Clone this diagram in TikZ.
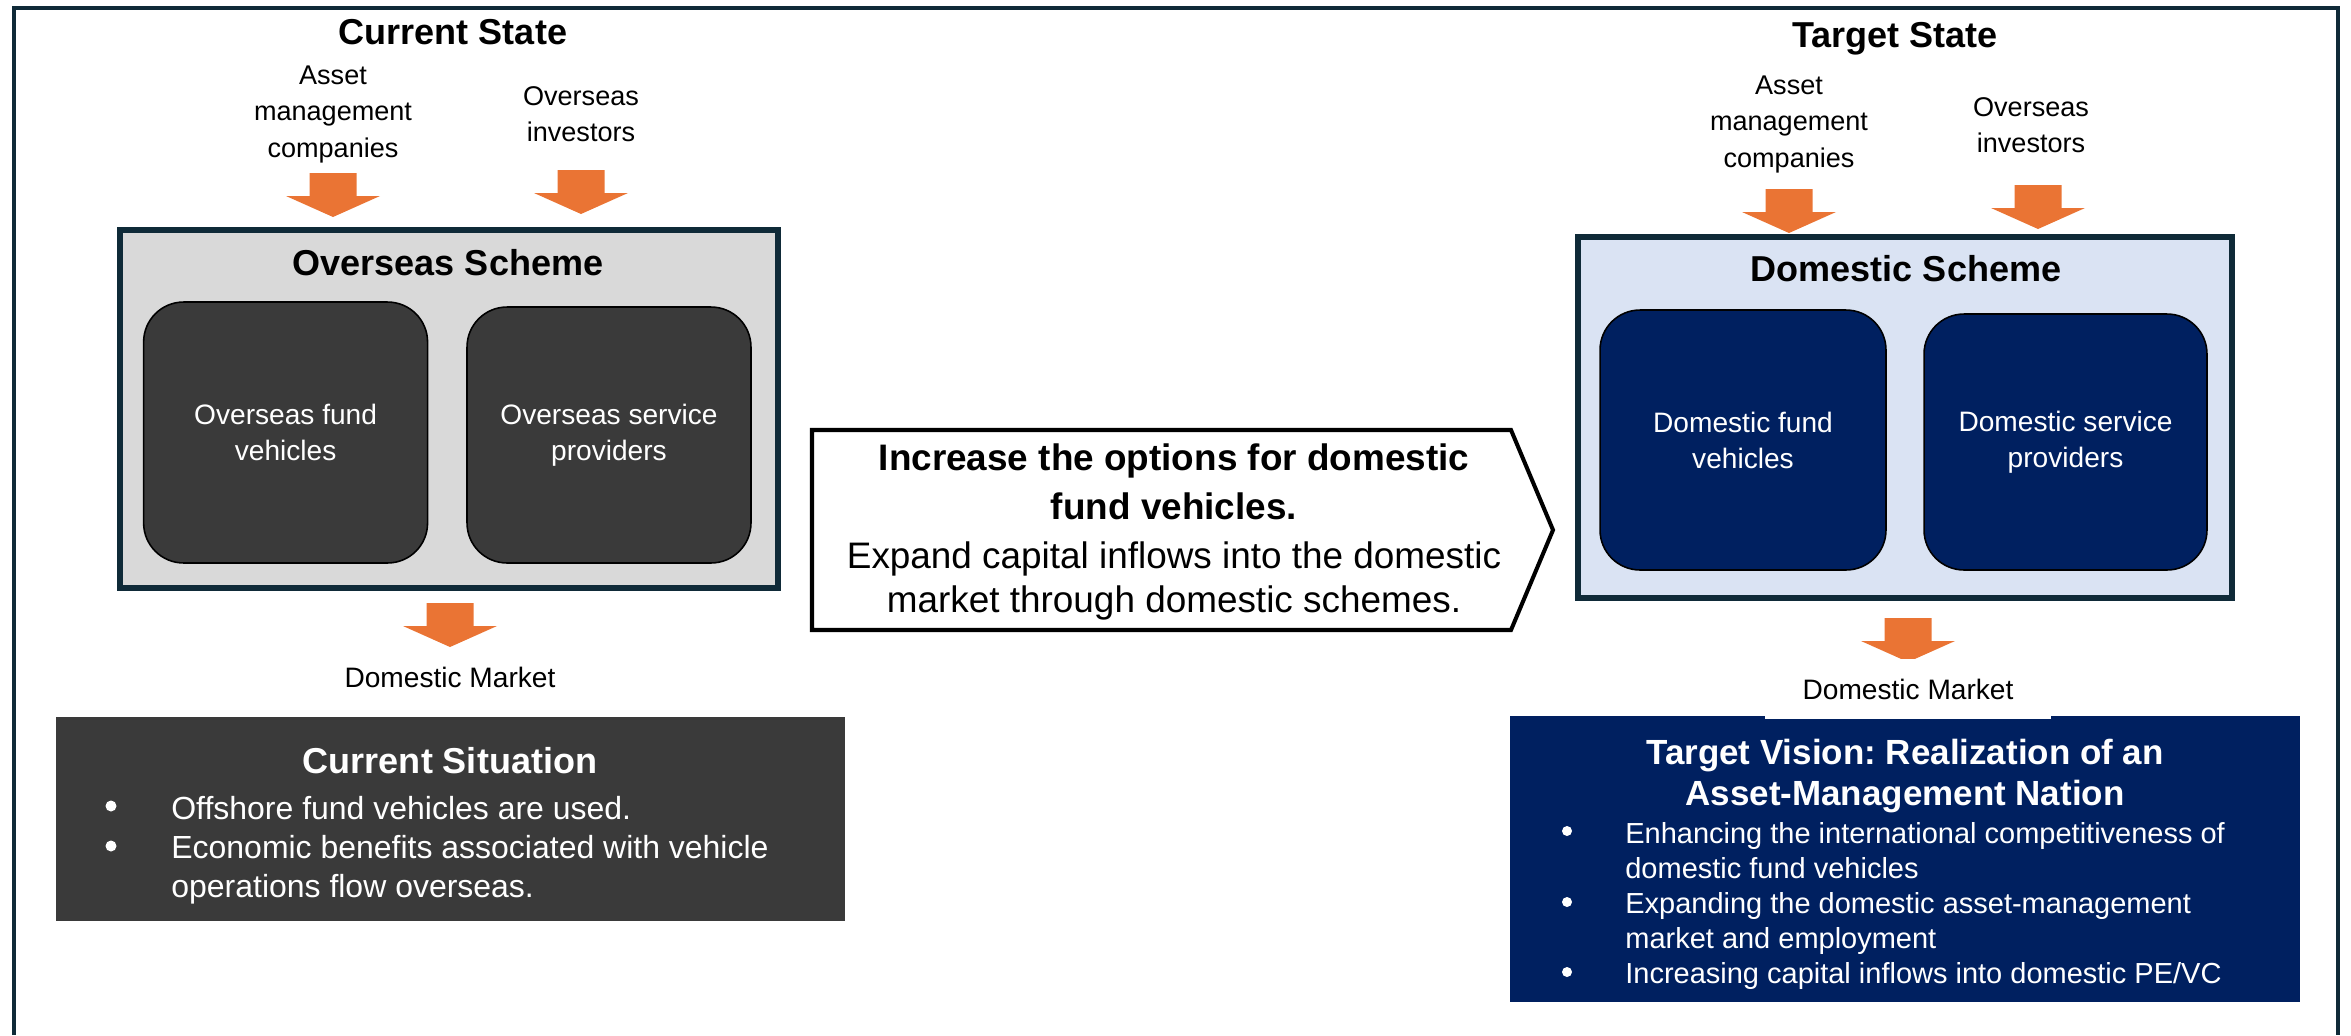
\documentclass[tikz,border=0pt]{standalone}
\usepackage{fontspec}
\setmainfont{Liberation Sans}
\usepackage{xcolor}
\usepackage{tikz}
\usetikzlibrary{calc}
\usetikzlibrary{positioning}
\definecolor{frameteal}{HTML}{0F2A38}
\definecolor{schemegray}{HTML}{D9D9D9}
\definecolor{darkbox}{HTML}{3A3A3A}
\definecolor{navy}{HTML}{002060}
\definecolor{paleblue}{HTML}{DAE3F3}
\definecolor{flow}{HTML}{EA7434}
\newcommand{\fsz}[2]{\fontsize{#1}{#2}\selectfont}
\tikzset{>=latex}
\tikzstyle{head} = [font = \fsz{20.5pt}{24pt}\bfseries, inner sep = 0, anchor = base]
\tikzstyle{lbl} = [font = \fsz{15.4pt}{20.5pt}, align = center, inner sep = 0, anchor = north]
\tikzstyle{scheme} = [draw = frameteal, line width = 3pt, inner sep = 0]
\tikzstyle{vehicle} = [draw = black, line width = 0.9pt, rounded corners = 0.8cm, text = white, align = center, font = \fsz{16pt}{20.5pt}]
\tikzstyle{panel} = [draw = none, inner sep = 0]
\tikzstyle{ptitle} = [text = white, font = \fsz{20.5pt}{24pt}\bfseries, inner sep = 0]
\tikzstyle{blist} = [text = white, align = left, inner sep = 0, anchor = north west]
\tikzstyle{mkt} = [font = \fsz{16pt}{20pt}, inner sep = 0]
\tikzstyle{dot} = [fill = white]
\tikzset{dnarrow/.pic = {\fill [flow] (-23.5, 0) -- (23.5, 0) -- (23.5, 23) -- (47, 23) -- (0, 44) -- (-47, 23) -- (-23.5, 23) -- cycle;}}

\begin{document}
\begin{tikzpicture}[x = 0.02cm, y = -0.02cm]
\useasboundingbox (0, 0) rectangle (2351, 1035);
\draw [frameteal, line width = 2.6pt] (14, 1035) -- (14, 8) -- (2338, 8) -- (2338, 1035);

\node [head] (curState) at (453, 44) {Current State};
\node [lbl] (amcL) at (333, 66) {Asset\\management\\companies};
\node [lbl] (invL) at (581, 86) {Overseas\\investors};
\pic (arrAmcL) at (333, 173) {dnarrow};
\pic (arrInvL) at (581, 170) {dnarrow};
\node [scheme, fill = schemegray, minimum width = 13.16cm, minimum height = 7.16cm] (osScheme) at (449, 409) {};
\node [head] (osTitle) at (448, 275) {Overseas Scheme};
\node [vehicle, fill = darkbox, minimum width = 5.68cm, minimum height = 5.22cm] (osFund) at (285.6, 432.5) {Overseas fund\\vehicles};
\node [vehicle, fill = darkbox, minimum width = 5.68cm, minimum height = 5.12cm] (osServ) at (609, 435) {Overseas service\\providers};
\pic (arrMktL) at (450, 603) {dnarrow};
\node [mkt] (mktL) at (450, 677) {Domestic Market};
\node [panel, fill = darkbox, minimum width = 15.78cm, minimum height = 4.08cm] (curSit) at (450.5, 819) {};
\node [ptitle, anchor = base] (curSitTitle) at (450, 773) {Current Situation};
\node [blist, font = \fsz{18.2pt}{22.2pt}] (curSitList) at (171, 796) {Offshore fund vehicles are used.\\Economic benefits associated with vehicle\\operations flow overseas.};
\foreach \yy in {806, 846}
  \fill [dot] (111, \yy) circle (5.5);

\draw [black, line width = 2.3pt, fill = white] (812, 430) -- (1511, 430) -- (1553, 530) -- (1511, 630) -- (812, 630) -- cycle;
\node [font = \fsz{21pt}{25pt}, align = center, inner sep = 0] (push) at (1174, 532) {\textbf{Increase the options for domestic}\\[3pt]\textbf{fund vehicles.}\\[3pt]Expand capital inflows into the domestic\\market through domestic schemes.};

\node [head] (tgtState) at (1895, 47) {Target State};
\node [lbl] (amcR) at (1789, 76) {Asset\\management\\companies};
\node [lbl] (invR) at (2031, 97) {Overseas\\investors};
\pic (arrAmcR) at (1789, 189) {dnarrow};
\pic (arrInvR) at (2038, 185) {dnarrow};
\node [scheme, fill = paleblue, minimum width = 13.08cm, minimum height = 7.22cm] (dsScheme) at (1905, 417.5) {};
\node [head] (dsTitle) at (1906, 281) {Domestic Scheme};
\node [vehicle, fill = navy, minimum width = 5.72cm, minimum height = 5.2cm] (dsFund) at (1743, 440) {Domestic fund\\vehicles};
\node [vehicle, fill = navy, minimum width = 5.66cm, minimum height = 5.12cm] (dsServ) at (2065.5, 442) {Domestic service\\providers};
\pic (arrMktR) at (1908, 618) {dnarrow};
\node [panel, fill = navy, minimum width = 15.8cm, minimum height = 5.72cm] (tgtVis) at (1905, 859) {};
\node [mkt, fill = white, minimum width = 5.72cm, minimum height = 1.2cm] (mktR) at (1908, 689) {Domestic Market};
\node [ptitle, align = center, font = \fsz{19.9pt}{23.3pt}\bfseries, anchor = north] (tgtVisTitle) at (1905, 739) {Target Vision:\ Realization of an\\Asset-Management Nation};
\node [blist, font = \fsz{16.5pt}{19.9pt}] (tgtVisList) at (1625, 822) {Enhancing the international competitiveness of\\domestic fund vehicles\\Expanding the domestic asset-management\\market and employment\\Increasing capital inflows into domestic PE/VC};
\foreach \yy in {831, 902, 972}
  \fill [dot] (1567, \yy) circle (5);
\end{tikzpicture}
\end{document}
